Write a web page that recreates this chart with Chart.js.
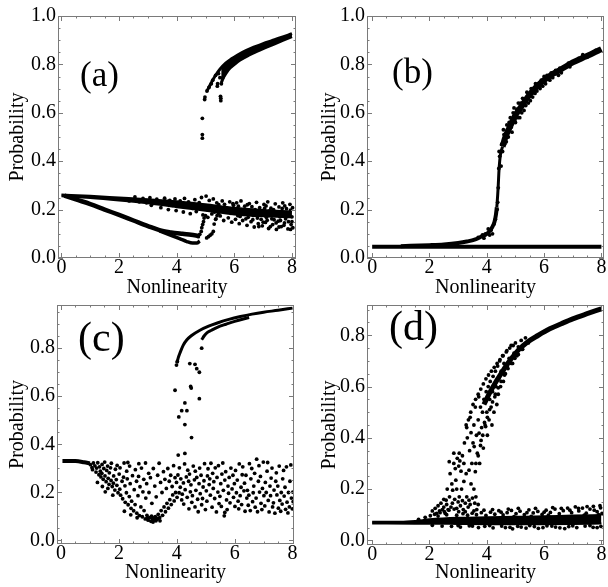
<!DOCTYPE html>
<html>
<head>
<meta charset="utf-8">
<script src="https://cdn.jsdelivr.net/npm/chart.js@4.4.0/dist/chart.umd.min.js"></script>
<style>
  html, body { margin: 0; padding: 0; background: #fff; }
  #wrap { position: relative; width: 608px; height: 587px; overflow: hidden; }
  #wrap canvas { position: absolute; left: 0; top: 0; }
</style>
</head>
<body>
<div id="wrap">
  <canvas id="pa" width="608" height="587"></canvas>
  <canvas id="pb" width="608" height="587"></canvas>
  <canvas id="pc" width="608" height="587"></canvas>
  <canvas id="pd" width="608" height="587"></canvas>
</div>
<script>
// ticks
const xTickVals = [0, 2, 4, 6, 8];
const yTickValsTop = [0, 0.2, 0.4, 0.6, 0.8, 1.0];
const yTickValsBottom = [0, 0.2, 0.4, 0.6, 0.8];

// ---- panel (a) ----
const aBandTop = [[0,0.262],[1,0.257],[2,0.25],[3,0.243],[4,0.235],[5,0.222],[6,0.208],[7,0.198],[8,0.192]];
const aBandBot = [[0,0.255],[1,0.248],[2,0.238],[3,0.226],[4,0.21],[5,0.195],[6,0.18],[7,0.172],[8,0.168]];
const aBandDots = [[2.55,0.252],[2.83,0.246],[3.07,0.249],[3.31,0.243],[3.58,0.247],[3.76,0.238],[3.94,0.244],[4.12,0.236],[4.27,0.246],[4.41,0.232],[4.63,0.241],[4.78,0.229],[4.86,0.25],[5.02,0.256],[5.13,0.238],[5.27,0.244],[5.39,0.228],[5.58,0.236],[5.66,0.222],[5.84,0.232],[5.97,0.218],[6.08,0.228],[6.23,0.236],[6.36,0.214],[6.52,0.225],[6.61,0.212],[6.77,0.23],[6.88,0.208],[7.03,0.221],[7.16,0.232],[7.27,0.206],[7.42,0.224],[7.55,0.211],[7.68,0.228],[7.81,0.204],[7.93,0.222],[8.02,0.208],
  [3.12,0.218],[3.45,0.208],[3.71,0.2],[3.98,0.196],[4.23,0.19],[4.47,0.183],[4.68,0.192],[4.91,0.178],[5.08,0.168],[5.22,0.182],[5.36,0.162],[5.51,0.174],[5.63,0.155],[5.79,0.166],[5.91,0.148],[6.04,0.16],[6.17,0.142],[6.29,0.155],[6.44,0.135],[6.58,0.15],[6.69,0.128],[6.83,0.142],[6.97,0.133],[7.08,0.147],[7.19,0.122],[7.33,0.138],[7.46,0.118],[7.52,0.152],[7.63,0.13],[7.74,0.145],[7.86,0.12],[7.97,0.138],[8.03,0.125],[7.38,0.158],[6.93,0.16],[6.48,0.168],[7.78,0.162],[8.0,0.15],[5.73,0.19],[6.12,0.175],[6.66,0.176],[7.11,0.168],[7.58,0.17],[7.9,0.175],
  [2.15,0.243],[2.35,0.236],[2.7,0.232],[2.95,0.228],[3.2,0.232],[3.5,0.222],[3.85,0.218],[4.05,0.222],[4.35,0.212],[4.55,0.205],[4.75,0.21],[5.05,0.2],[5.2,0.212],[5.31,0.19],[5.46,0.22],[5.55,0.196],[5.7,0.208],[5.88,0.185],[6.0,0.198],[6.14,0.214],[6.2,0.172],[6.33,0.198],[6.4,0.162],[6.55,0.192],[6.64,0.158],[6.72,0.2],[6.8,0.165],[6.92,0.19],[7.0,0.148],[7.05,0.205],[7.14,0.156],[7.22,0.195],[7.3,0.162],[7.36,0.2],[7.45,0.145],[7.5,0.19],[7.6,0.155],[7.66,0.205],[7.72,0.135],[7.8,0.185],[7.88,0.15],[7.95,0.198],[8.0,0.17],[7.55,0.128],[7.25,0.13],[6.85,0.13],[7.95,0.118],[7.1,0.215],[7.75,0.215],[6.45,0.22],[5.95,0.225]];
const aVee = [[0.1,0.258],[0.5,0.242],[1,0.223],[1.5,0.2],[2,0.178],[2.5,0.155],[3,0.132],[3.4,0.115],[3.8,0.106],[4.2,0.1],[4.5,0.096],[4.75,0.092]];
const aVeeLow = [[3.4,0.112],[3.8,0.094],[4.1,0.08],[4.35,0.068],[4.55,0.062],[4.7,0.062],[4.8,0.07]];
const aHook = [[4.75,0.088],[4.8,0.098],[4.85,0.11],[4.87,0.125],[4.9,0.138],[4.93,0.15],[4.95,0.165],[5.0,0.175],[5.04,0.083],[5.1,0.088],[5.16,0.094],[5.22,0.1],[5.27,0.11],[5.3,0.14],[5.35,0.16],[5.4,0.175],[5.45,0.185]];
const aUpperA = [[5.05,0.69],[5.15,0.713],[5.25,0.735],[5.35,0.755],[5.5,0.78],[5.7,0.805],[5.9,0.823],[6.1,0.838],[6.4,0.857],[6.7,0.872],[7.0,0.886],[7.3,0.898],[7.6,0.91],[8.0,0.927]];
const aUpperB = [[5.55,0.725],[5.62,0.745],[5.72,0.765],[5.85,0.785],[6.0,0.8],[6.2,0.818],[6.5,0.838],[6.8,0.855],[7.1,0.87],[7.4,0.885],[7.7,0.9],[8.0,0.915]];
const aUpperDots = [[4.89,0.495],[4.89,0.51],[4.89,0.577],[4.97,0.655],[4.98,0.665],[5.05,0.69],[5.12,0.705],[5.41,0.71],[5.42,0.72],[5.53,0.65],[5.53,0.66],[5.52,0.668],[5.55,0.72],[5.5,0.745],[5.6,0.745],[5.35,0.755],[5.45,0.762],[5.65,0.765],[5.25,0.735],[5.2,0.72]];

// ---- panel (b) ----
const bBase = [[0,0.047],[2,0.047],[4,0.047],[6,0.047],[8,0.046]];
const bRiseLow = [[1.0,0.049],[2.0,0.053],[2.5,0.056],[3.0,0.062],[3.3,0.068],[3.6,0.077],[3.8,0.088],[4.0,0.1],[4.1,0.112],[4.2,0.13],[4.27,0.15],[4.32,0.18],[4.35,0.21]];
const bRiseVert = [[4.35,0.21],[4.38,0.26],[4.4,0.3],[4.42,0.35],[4.45,0.4],[4.48,0.43],[4.55,0.46]];
const bRiseHigh = [[4.55,0.46],[4.65,0.5],[4.8,0.54],[5.0,0.59],[5.2,0.625],[5.4,0.66],[5.6,0.69],[5.8,0.715],[6.0,0.735],[6.3,0.76],[6.6,0.78],[7.0,0.808],[7.4,0.83],[7.7,0.846],[8.0,0.863]];
const bDots = [[4.42,0.37],[4.45,0.42],[4.43,0.44],[4.5,0.38],[4.52,0.47],[4.58,0.53],[4.62,0.47],[4.7,0.55],[4.75,0.5],[4.82,0.58],[4.88,0.52],[4.95,0.62],[5.0,0.56],[5.1,0.64],[5.15,0.58],[5.25,0.66],[5.3,0.61],[5.4,0.685],[5.45,0.64],[5.55,0.7],[5.6,0.665],[5.7,0.72],[5.75,0.69],[5.9,0.735],[5.95,0.71],[6.1,0.755],[6.2,0.735],[6.4,0.775],[6.5,0.755],[6.7,0.79],[6.9,0.79],[7.2,0.825],[7.5,0.83],[7.8,0.858],[4.4,0.29],[4.38,0.23],[4.36,0.2],[4.3,0.16],[4.25,0.14],[4.15,0.115],[4.05,0.12],[3.95,0.1],[3.85,0.095],[3.7,0.085],[4.2,0.1],[4.1,0.095],[3.9,0.082],
  [4.55,0.44],[4.6,0.51],[4.68,0.48],[4.72,0.53],[4.78,0.56],[4.85,0.54],[4.92,0.6],[4.98,0.57],[5.05,0.615],[5.08,0.58],[5.18,0.64],[5.22,0.6],[5.32,0.65],[5.36,0.63],[5.48,0.67],[5.52,0.65],[5.65,0.7],[5.68,0.68],[5.82,0.72],[5.86,0.7],[6.0,0.75],[6.05,0.72],[6.25,0.765],[6.3,0.745],[6.55,0.785],[6.6,0.765],[6.85,0.805],[7.1,0.815],[7.35,0.84],[7.6,0.84],[7.9,0.86]];

// ---- panel (c) ----
const cStart = [[0.05,0.33],[0.5,0.33],[0.8,0.325],[1.0,0.32]];
const cUpperA = [[4.0,0.737],[4.05,0.76],[4.11,0.78],[4.22,0.812],[4.35,0.835],[4.5,0.852],[4.8,0.875],[5.1,0.892],[5.4,0.905],[5.8,0.92],[6.2,0.932],[6.6,0.942],[7.0,0.95],[7.5,0.958],[8.0,0.967]];
const cUpperB = [[4.86,0.835],[4.95,0.852],[5.05,0.865],[5.2,0.875],[5.4,0.887],[5.7,0.9],[6.0,0.912],[6.5,0.928]];
const cOutliers = [[4.86,0.8],[3.94,0.625],[4.07,0.514],[4.28,0.572],[4.17,0.54],[4.35,0.54],[4.28,0.482],[4.51,0.428],[4.48,0.641],[4.5,0.634],[4.78,0.59],[4.45,0.736],[4.63,0.733],[4.69,0.715],[4.78,0.7],[4.05,0.355],[4.28,0.362],[3.99,0.73],[4.02,0.745]];
const cCloud = [
  [1.02,0.315],[1.07,0.303],[1.12,0.322],[1.09,0.294],[1.17,0.31],[1.21,0.284],[1.23,0.301],[1.27,0.323],[1.31,0.273],[1.33,0.306],[1.36,0.288],[1.38,0.264],[1.42,0.316],[1.41,0.279],[1.46,0.254],[1.48,0.299],[1.52,0.268],[1.51,0.326],[1.56,0.244],[1.58,0.291],[1.61,0.309],[1.63,0.258],[1.66,0.233],[1.67,0.281],[1.71,0.302],[1.73,0.249],[1.77,0.224],[1.74,0.321],[1.82,0.268],[1.81,0.238],[1.86,0.209],[1.88,0.296],[1.91,0.253],[1.93,0.229],[1.97,0.198],[1.94,0.312],[2.01,0.276],[2.03,0.213],[1.26,0.241],[1.43,0.224],[1.62,0.216],[1.79,0.188],[1.53,0.202],
  [2.06,0.188],[2.04,0.302],[2.11,0.246],[2.13,0.173],[2.16,0.263],[2.18,0.322],[2.22,0.158],[2.21,0.227],[2.27,0.288],[2.26,0.198],[2.32,0.148],[2.29,0.256],[2.36,0.182],[2.37,0.309],[2.42,0.133],[2.39,0.236],[2.47,0.269],[2.44,0.163],[2.51,0.123],[2.53,0.211],[2.57,0.294],[2.56,0.149],[2.62,0.113],[2.61,0.246],[2.66,0.186],[2.68,0.266],[2.71,0.103],[2.73,0.223],[2.76,0.139],[2.78,0.301],[2.81,0.098],[2.83,0.202],[2.86,0.254],[2.87,0.124],[2.91,0.089],[2.93,0.176],[2.96,0.236],[2.97,0.104],[3.01,0.084],[3.03,0.279],[2.19,0.121],[2.41,0.106],[2.63,0.094],[2.31,0.324],[2.69,0.319],[2.92,0.322],
  [3.06,0.094],[3.04,0.199],[3.11,0.079],[3.09,0.261],[3.16,0.091],[3.14,0.154],[3.21,0.084],[3.19,0.299],[3.26,0.099],[3.24,0.226],[3.31,0.087],[3.29,0.181],[3.36,0.108],[3.34,0.271],[3.41,0.094],[3.39,0.321],[3.46,0.124],[3.44,0.241],[3.51,0.104],[3.49,0.199],[3.56,0.139],[3.54,0.286],[3.61,0.119],[3.59,0.254],[3.66,0.154],[3.64,0.216],[3.71,0.134],[3.69,0.299],[3.76,0.169],[3.74,0.246],[3.81,0.149],[3.79,0.271],[3.86,0.189],[3.84,0.224],[3.91,0.164],[3.89,0.311],[3.96,0.199],[3.94,0.261],[4.01,0.179],[3.99,0.241],[2.99,0.092],[3.13,0.101],[3.23,0.094],[3.18,0.076],[3.28,0.081],[3.34,0.091],[3.42,0.081],
  [4.04,0.272],[4.08,0.198],[4.12,0.221],[4.09,0.302],[4.17,0.168],[4.14,0.256],[4.23,0.239],[4.19,0.192],[4.27,0.318],[4.24,0.151],[4.33,0.264],[4.29,0.211],[4.36,0.179],[4.38,0.292],[4.42,0.131],[4.41,0.246],[4.47,0.202],[4.44,0.276],[4.52,0.158],[4.49,0.231],[4.57,0.309],[4.54,0.186],[4.61,0.252],[4.63,0.139],[4.66,0.208],[4.64,0.288],[4.72,0.171],[4.69,0.262],[4.74,0.119],[4.77,0.236],[4.81,0.194],[4.79,0.301],[4.86,0.148],[4.84,0.271],[4.91,0.222],[4.89,0.174],[4.96,0.319],[4.94,0.248],[4.99,0.128],[5.02,0.206],
  [5.06,0.268],[5.04,0.163],[5.12,0.232],[5.08,0.298],[5.16,0.188],[5.14,0.256],[5.22,0.138],[5.18,0.321],[5.26,0.216],[5.24,0.279],[5.31,0.174],[5.28,0.244],[5.37,0.118],[5.33,0.302],[5.42,0.201],[5.39,0.262],[5.46,0.153],[5.44,0.311],[5.52,0.236],[5.49,0.183],[5.56,0.276],[5.54,0.141],[5.61,0.208],[5.59,0.322],[5.66,0.251],[5.64,0.102],[5.72,0.168],[5.69,0.286],[5.77,0.226],[5.74,0.128],[5.81,0.262],[5.79,0.196],[5.87,0.301],[5.84,0.156],[5.91,0.214],[5.96,0.179],[5.94,0.271],[6.01,0.141],[5.99,0.236],[5.66,0.116],
  [6.06,0.198],[6.03,0.291],[6.12,0.163],[6.09,0.251],[6.16,0.318],[6.14,0.131],[6.22,0.221],[6.19,0.186],[6.26,0.273],[6.24,0.149],[6.32,0.206],[6.28,0.306],[6.36,0.121],[6.34,0.238],[6.42,0.176],[6.39,0.271],[6.47,0.146],[6.44,0.208],[6.51,0.319],[6.49,0.188],[6.56,0.256],[6.54,0.124],[6.62,0.161],[6.59,0.299],[6.66,0.226],[6.64,0.198],[6.71,0.138],[6.69,0.279],[6.76,0.338],[6.74,0.176],[6.82,0.246],[6.79,0.119],[6.86,0.201],[6.84,0.311],[6.91,0.154],[6.89,0.266],[6.96,0.216],[6.94,0.128],[7.01,0.186],[6.99,0.326],
  [7.06,0.241],[7.04,0.143],[7.12,0.288],[7.09,0.199],[7.16,0.166],[7.14,0.324],[7.22,0.226],[7.19,0.118],[7.26,0.259],[7.24,0.186],[7.31,0.139],[7.29,0.301],[7.36,0.209],[7.34,0.156],[7.42,0.246],[7.39,0.113],[7.46,0.189],[7.44,0.281],[7.51,0.134],[7.49,0.226],[7.56,0.166],[7.54,0.309],[7.61,0.199],[7.59,0.121],[7.66,0.256],[7.64,0.151],[7.71,0.184],[7.69,0.291],[7.76,0.129],[7.74,0.221],[7.81,0.159],[7.79,0.306],[7.86,0.199],[7.84,0.114],[7.91,0.246],[7.89,0.139],[7.96,0.176],[7.94,0.314],[8.01,0.201],[7.99,0.131],[8.02,0.161]
];

// ---- panel (d) ----
const dBandTop = [[0,0.073],[1,0.073],[1.5,0.076],[2,0.082],[3,0.088],[4,0.09],[5,0.092],[6,0.094],[7,0.097],[8,0.099]];
const dBandBot = [[0,0.066],[1.5,0.065],[2,0.065],[3,0.064],[4,0.063],[5,0.063],[6,0.063],[7,0.064],[8,0.066]];
const dBandDots = [[1.62,0.082],[1.85,0.09],[2.03,0.096],[2.18,0.102],[2.37,0.108],[2.52,0.112],[2.68,0.118],[2.86,0.122],[3.02,0.112],[3.17,0.104],[3.33,0.098],[3.49,0.106],[3.64,0.1],[3.81,0.108],[3.97,0.097],[4.13,0.11],[4.28,0.102],[4.42,0.116],[4.57,0.099],[4.71,0.108],[4.86,0.117],[5.02,0.104],[5.16,0.114],[5.31,0.1],[5.47,0.119],[5.62,0.107],[5.78,0.113],[5.93,0.101],[6.07,0.118],[6.22,0.109],[6.38,0.122],[6.53,0.104],[6.67,0.116],[6.82,0.126],[6.96,0.108],[7.09,0.131],[7.21,0.115],[7.34,0.126],[7.47,0.106],[7.6,0.122],[7.72,0.133],[7.85,0.112],[7.97,0.127],[8.02,0.105],[6.15,0.098],[5.55,0.094],[4.95,0.093],[7.4,0.098],[7.9,0.1],
  [2.1,0.059],[2.44,0.056],[2.77,0.055],[3.08,0.052],[3.39,0.057],[3.71,0.05],[3.93,0.055],[4.22,0.049],[4.52,0.056],[4.81,0.051],[5.08,0.055],[5.37,0.048],[5.66,0.054],[5.96,0.05],[6.27,0.056],[6.55,0.049],[6.86,0.054],[7.14,0.05],[7.43,0.056],[7.71,0.051],[7.98,0.055],[4.9,0.045],[6.72,0.046],[5.8,0.047],
  [2.3,0.095],[2.6,0.1],[2.95,0.098],[3.25,0.112],[3.55,0.115],[3.9,0.118],[4.2,0.12],[4.5,0.11],[4.75,0.122],[5.1,0.125],[5.4,0.108],[5.7,0.125],[6.0,0.11],[6.3,0.128],[6.6,0.125],[6.9,0.118],[7.2,0.125],[7.5,0.132],[7.75,0.118],[7.95,0.135],[3.0,0.058],[3.5,0.056],[4.1,0.058],[4.65,0.05],[5.2,0.052],[5.5,0.058],[6.1,0.057],[6.4,0.052],[7.0,0.057],[7.6,0.058],[7.85,0.05]];
const dRise = [[3.9,0.53],[4.1,0.575],[4.3,0.615],[4.5,0.65],[4.7,0.685],[4.9,0.715],[5.1,0.742],[5.4,0.772],[5.8,0.8],[6.2,0.825],[6.6,0.845],[7.0,0.864],[7.5,0.884],[8.0,0.903]];
const dRiseLeft = [[3.28,0.45],[3.36,0.47],[3.44,0.5],[3.52,0.53],[3.61,0.55],[3.7,0.57],[3.79,0.59],[3.88,0.61],[3.97,0.63],[4.06,0.645],[4.16,0.66],[4.26,0.675],[4.36,0.69],[4.46,0.705],[4.57,0.72],[4.68,0.735],[4.8,0.75],[4.92,0.76]];
const dRiseRight = [[3.62,0.3],[3.7,0.33],[3.78,0.37],[3.86,0.41],[3.94,0.45],[4.02,0.48],[4.1,0.51],[4.2,0.54],[4.3,0.57],[4.4,0.595],[4.5,0.62],[4.62,0.645],[4.74,0.67],[4.86,0.69],[4.98,0.71],[5.1,0.725],[5.22,0.745]];
const dCloud = [[2.1,0.115],[2.2,0.125],[2.25,0.105],[2.3,0.135],[2.35,0.115],[2.4,0.145],[2.45,0.12],[2.5,0.16],[2.5,0.13],[2.55,0.105],[2.58,0.157],[2.6,0.14],[2.62,0.2],[2.65,0.12],[2.69,0.307],[2.7,0.17],[2.72,0.26],[2.75,0.13],[2.78,0.22],[2.8,0.145],[2.81,0.196],[2.85,0.3],[2.88,0.16],[2.9,0.28],[2.92,0.235],[2.95,0.125],[2.97,0.32],[3.0,0.15],[3.02,0.29],[3.04,0.34],[3.04,0.17],[3.06,0.31],[3.08,0.135],[3.1,0.27],[3.12,0.2],[3.15,0.33],[3.15,0.155],[3.18,0.12],[3.2,0.3],[3.22,0.38],[3.25,0.145],[3.28,0.26],[3.3,0.17],[3.32,0.4],[3.35,0.13],[3.38,0.274],[3.38,0.157],[3.4,0.35],[3.42,0.14],[3.45,0.42],[3.48,0.3],[3.5,0.165],[3.52,0.38],[3.55,0.45],[3.56,0.366],[3.58,0.145],[3.6,0.268],[3.62,0.17],[3.64,0.41],[3.67,0.34],[3.7,0.47],[3.73,0.418],[3.75,0.3],[3.78,0.52],[3.8,0.39],[3.82,0.44],[3.85,0.5],[3.88,0.36],[3.9,0.55],[3.92,0.46],[3.96,0.444],[3.98,0.58],[4.0,0.5],[4.02,0.41],[4.05,0.6],[4.08,0.47],[4.1,0.55],[4.12,0.62],[4.15,0.52],[4.18,0.45],[4.2,0.58],[4.22,0.64],[4.25,0.5],[4.28,0.56],[4.3,0.66],[4.32,0.6],[4.35,0.53],[4.38,0.68],[4.4,0.57],[4.42,0.63],[4.45,0.7],[4.48,0.6],[4.5,0.66],[4.55,0.72],[4.58,0.62],[4.6,0.69],[4.65,0.65],[4.7,0.74],[4.72,0.68],[4.78,0.71],[4.85,0.76],[4.9,0.69],[4.95,0.73],[5.0,0.77],[5.05,0.72],[5.1,0.755],[5.2,0.78],[5.25,0.745],[5.35,0.79],[5.45,0.77],[3.3,0.44],[3.42,0.48],[3.6,0.52],[3.72,0.56],[3.45,0.22],[3.55,0.2],[3.65,0.12],[3.7,0.14],[3.2,0.23],[2.95,0.2],[2.85,0.34]];

// ---------------------------------------------------------------
const SERIF = '"Liberation Serif", "Times New Roman", serif';
const pts = (arr) => arr.map(([x, y]) => ({ x, y }));

function dots(arr) {
  return { data: pts(arr), showLine: false, pointRadius: 1.9, pointBackgroundColor: "#000", pointBorderWidth: 0 };
}
function line(arr, w, fill) {
  return {
    data: pts(arr), showLine: true, borderColor: "#000", borderWidth: w,
    backgroundColor: "#000", fill: fill || false, pointRadius: 0,
    cubicInterpolationMode: "monotone"
  };
}

// frame + inward ticks on all four sides + panel letter
const framePlugin = {
  id: "frame",
  afterDraw(chart, args, o) {
    const { ctx, chartArea: a } = chart;
    const xs = chart.scales.x, ys = chart.scales.y;
    ctx.save();
    ctx.strokeStyle = "#7a7a7a";
    ctx.lineWidth = 1;
    ctx.strokeRect(a.left + 0.5, a.top + 0.5, a.right - a.left - 1, a.bottom - a.top - 1);
    ctx.beginPath();
    for (let i = 0; i <= 16; i++) {
      const px = Math.round(xs.getPixelForValue(i * 0.5)) + 0.5;
      const len = i % 4 === 0 ? 5 : 2.5;
      ctx.moveTo(px, a.bottom); ctx.lineTo(px, a.bottom - len);
      ctx.moveTo(px, a.top); ctx.lineTo(px, a.top + len);
    }
    for (let i = 0; i * 0.05 <= ys.max + 1e-9; i++) {
      const py = Math.round(ys.getPixelForValue(i * 0.05)) + 0.5;
      const len = i % 4 === 0 ? 5 : 2.5;
      ctx.moveTo(a.left, py); ctx.lineTo(a.left + len, py);
      ctx.moveTo(a.right, py); ctx.lineTo(a.right - len, py);
    }
    ctx.stroke();
    ctx.fillStyle = "#000";
    ctx.font = o.size + "px " + SERIF;
    ctx.textBaseline = "middle";
    ctx.textAlign = "left";
    ctx.fillText(o.label, o.lx, o.ly);
    ctx.restore();
  }
};

function makePanel(id, p) {
  const font = { family: SERIF, size: 20 };
  return new Chart(document.getElementById(id), {
    type: "scatter",
    data: { datasets: p.datasets },
    options: {
      responsive: false,
      animation: false,
      devicePixelRatio: 1,
      layout: { padding: p.pad },
      plugins: {
        legend: { display: false },
        tooltip: { enabled: false },
        frame: p.letter
      },
      scales: {
        x: {
          type: "linear", min: p.xMin, max: p.xMax,
          grid: { display: false, drawTicks: false }, border: { display: false },
          afterBuildTicks: (s) => { s.ticks = xTickVals.map(v => ({ value: v })); },
          ticks: { color: "#000", font: { ...font, lineHeight: 1 }, padding: 0, maxRotation: 0, autoSkip: false, callback: (v) => String(v) },
          title: { display: true, text: "Nonlinearity", color: "#000", font: { ...font, lineHeight: 1.2 }, padding: { top: 0, bottom: p.xTitlePad } },
          afterFit: (s) => { s.height = p.xH; s.paddingLeft = 0; s.paddingRight = 0; }
        },
        y: {
          type: "linear", min: p.yMin, max: p.yMax,
          grid: { display: false, drawTicks: false }, border: { display: false },
          afterBuildTicks: (s) => { s.ticks = p.yTicks.map(v => ({ value: v })); },
          ticks: { color: "#000", font, padding: 2, autoSkip: false, callback: (v) => Number(v).toFixed(1) },
          title: { display: true, text: "Probability", color: "#000", font: { ...font, lineHeight: 1.2 }, padding: { top: p.yTitlePad, bottom: 0 } },
          afterFit: (s) => { s.width = p.yW; s.paddingTop = 0; s.paddingBottom = 0; }
        }
      }
    },
    plugins: [framePlugin]
  });
}

makePanel("pa", {
  pad: { left: 0, top: 16, right: 312, bottom: 286 }, xH: 43, yW: 58,
  xMin: -0.12, xMax: 8.14, yMin: 0, yMax: 1, yTicks: yTickValsTop,
  xTitlePad: 1, yTitlePad: 6,
  letter: { label: "(a)", lx: 80, ly: 77, size: 35 },
  datasets: [
    line(aBandBot, 2), line(aBandTop, 2, "-1"), dots(aBandDots),
    line(aVee, 4.5), line(aVeeLow, 3.5), dots(aHook),
    line(aUpperB, 3), line(aUpperA, 3, "-1"), dots(aUpperDots)
  ]
});

makePanel("pb", {
  pad: { left: 311, top: 16, right: 2, bottom: 286 }, xH: 43, yW: 56,
  xMin: -0.18, xMax: 8.09, yMin: 0, yMax: 1, yTicks: yTickValsTop,
  xTitlePad: 1, yTitlePad: 6.5,
  letter: { label: "(b)", lx: 392, ly: 74, size: 35 },
  datasets: [
    line(bBase, 4), line(bRiseLow, 4), line(bRiseVert, 3), line(bRiseHigh, 6), dots(bDots)
  ]
});

makePanel("pc", {
  pad: { left: 0, top: 305, right: 314, bottom: 0 }, xH: 43, yW: 57,
  xMin: -0.138, xMax: 8.05, yMin: -0.0154, yMax: 0.98, yTicks: yTickValsBottom,
  xTitlePad: 2, yTitlePad: 6,
  letter: { label: "(c)", lx: 78, ly: 340, size: 42 },
  datasets: [
    line(cStart, 4), dots(cCloud), line(cUpperA, 3), line(cUpperB, 3), dots(cOutliers)
  ]
});

makePanel("pd", {
  pad: { left: 311, top: 305, right: 2, bottom: 0 }, xH: 42, yW: 56,
  xMin: -0.18, xMax: 8.09, yMin: -0.018, yMax: 0.918, yTicks: yTickValsBottom,
  xTitlePad: 2, yTitlePad: 6.5,
  letter: { label: "(d)", lx: 389, ly: 329, size: 42 },
  datasets: [
    line(dBandBot, 2), line(dBandTop, 2, "-1"), dots(dBandDots),
    dots(dCloud), dots(dRiseLeft), dots(dRiseRight), line(dRise, 5)
  ]
});
</script>
</body>
</html>
